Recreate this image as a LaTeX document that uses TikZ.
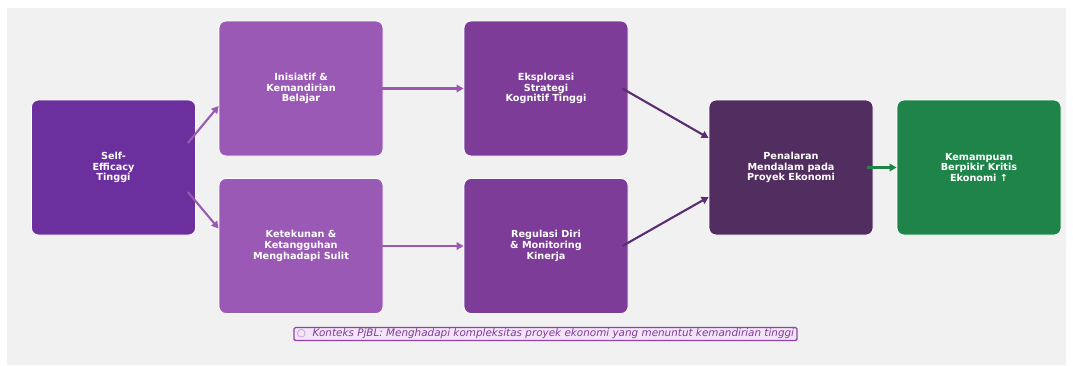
\documentclass[tikz,border=0pt]{standalone}
\usepackage{fontspec}
\setmainfont{DejaVu Sans}
\usetikzlibrary{arrows.meta,calc}

\definecolor{selfc}{RGB}{107,47,158}
\definecolor{midc}{HTML}{9B59B6}
\definecolor{deepc}{HTML}{7D3C98}
\definecolor{darkc}{HTML}{512E5F}
\definecolor{greenc}{HTML}{1E8449}
\definecolor{bgc}{HTML}{F1F1F1}
\definecolor{notefill}{HTML}{F4E4F8}
\definecolor{noteline}{HTML}{8E44AD}
\definecolor{arrowdark}{HTML}{5B2C6F}

\tikzset{
  stage/.style={rounded corners=7bp, draw=white, line width=0.8bp,
    minimum width=164bp, minimum height=135bp, inner sep=2bp,
    align=center, text=white,
    font=\fontsize{9.7bp}{10.7bp}\selectfont\bfseries},
  link/.style={line width=2.1bp, -{Triangle[length=7bp,width=7.5bp]}},
  notebox/.style={rounded corners=1.5bp, draw=noteline, line width=1.3bp,
    fill=notefill, inner xsep=3bp, inner ysep=1.5bp, text=deepc,
    font=\fontsize{10.4bp}{11bp}\selectfont\itshape}
}

\begin{document}
\begin{tikzpicture}[x=1bp, y=-1bp]
  % canvas
  \useasboundingbox (0,0) rectangle (1073,365);
  \fill[bgc] (7,8) rectangle (1066,365);

  % stages
  \node[stage, fill=selfc]  (self) at (113.5,167.5) {Self-\\Efficacy\\Tinggi};
  \node[stage, fill=midc]   (ini)  at (301,88.5)  {Inisiatif \&\\Kemandirian\\Belajar};
  \node[stage, fill=midc]   (ket)  at (301,246)   {Ketekunan \&\\Ketangguhan\\Menghadapi Sulit};
  \node[stage, fill=deepc]  (eks)  at (546,88.5)  {Eksplorasi\\Strategi\\Kognitif Tinggi};
  \node[stage, fill=deepc]  (reg)  at (546,246)   {Regulasi Diri\\\& Monitoring\\Kinerja};
  \node[stage, fill=darkc]  (pen)  at (791,167.5) {Penalaran\\Mendalam pada\\Proyek Ekonomi};
  \node[stage, fill=greenc] (kem)  at (979,167.5) {Kemampuan\\Berpikir Kritis\\Ekonomi ↑};

  % connectors
  \draw[link, midc] ($(self.east)+(-8,-24.5)$) -- ($(ini.west)+(0,17.5)$);
  \draw[link, midc] ($(self.east)+(-8,24.5)$) -- ($(ket.west)+(0,-17.5)$);
  \draw[link, midc] ($(ini.east)+(-6,0)$) -- (eks.west);
  \draw[link, midc] ($(ket.east)+(-6,0)$) -- (reg.west);
  \draw[link, arrowdark] ($(eks.east)+(-6,0)$) -- ($(pen.west)+(0,-29.5)$);
  \draw[link, arrowdark] ($(reg.east)+(-6,0)$) -- ($(pen.west)+(0,29.5)$);
  \draw[link, greenc] ($(pen.east)+(-6,0)$) -- (kem.west);

  % context note
  \node[notebox] (note) at (545.5,334) {{\color{deepc!60}\upshape ○}\ \ Konteks PjBL: Menghadapi kompleksitas proyek ekonomi yang menuntut kemandirian tinggi};
\end{tikzpicture}
\end{document}
